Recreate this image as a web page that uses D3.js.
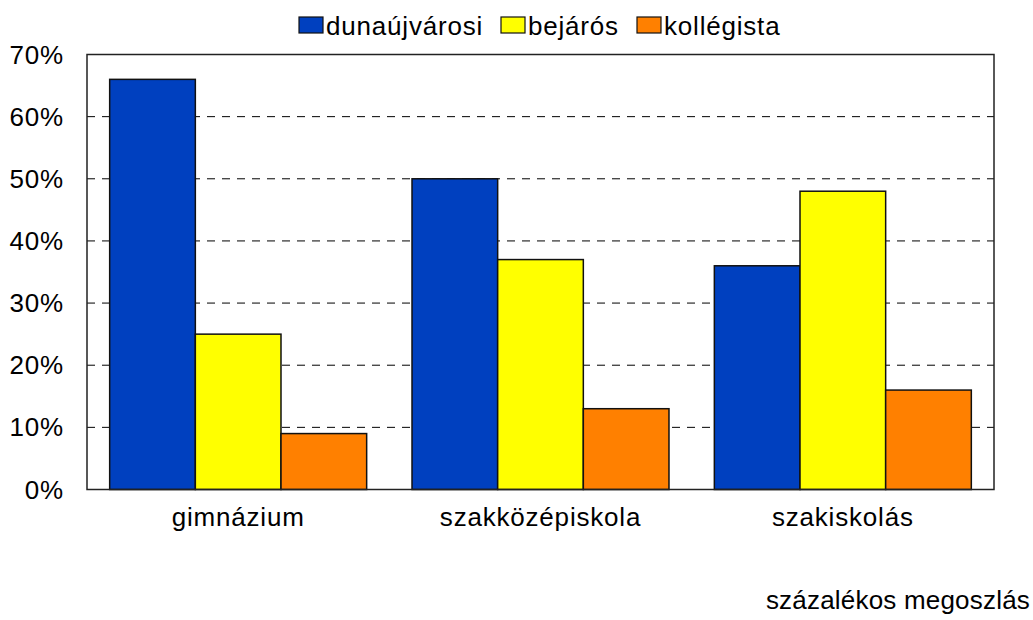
<!DOCTYPE html>
<html>
<head>
<meta charset="utf-8">
<script src="https://cdn.jsdelivr.net/npm/d3@7"></script>
<style>
  body { margin: 0; background: #fff; }
  svg text { font-family: "Liberation Sans", Arial, sans-serif; fill: #000; letter-spacing: 0.8px; }
</style>
</head>
<body>
<svg id="chart" width="1033" height="620"></svg>
<script>
// chart data
const categories = ['gimnázium', 'szakközépiskola', 'szakiskolás']
const seriesNames = ['dunaújvárosi', 'bejárós', 'kollégista']
const dunaujvarosi = [66, 50, 36]
const bejaros = [25, 37, 48]
const kollegista = [9, 13, 16]
const yTicks = [0, 10, 20, 30, 40, 50, 60, 70]
const colors = ['#0040BF', '#FFFF00', '#FF8000']

const seriesValues = [dunaujvarosi, bejaros, kollegista]

const svg = d3.select('#chart')
const plotLeft = 87, plotRight = 994, plotTop = 54.5, plotBottom = 489.5

const x = d3.scaleBand()
  .domain(categories)
  .range([plotLeft, plotRight])
  .paddingInner(0.15)
  .paddingOuter(0.075)

const xs = d3.scaleBand()
  .domain(seriesNames)
  .range([0, x.bandwidth()])

const y = d3.scaleLinear()
  .domain([0, 70])
  .range([plotBottom, plotTop])

// dashed gridlines
svg.append('g')
  .selectAll('line')
  .data(yTicks.filter(t => t > 0 && t < 70))
  .enter()
  .append('line')
  .attr('x1', plotLeft)
  .attr('x2', plotRight)
  .attr('y1', d => y(d))
  .attr('y2', d => y(d))
  .attr('stroke', '#000')
  .attr('stroke-width', 1)
  .attr('stroke-dasharray', '8,7')

// bars
const rows = categories.map((c, i) => ({
  cat: c,
  vals: seriesNames.map((s, j) => ({ s: s, v: seriesValues[j][i], color: colors[j] }))
}))

svg.append('g')
  .selectAll('g')
  .data(rows)
  .enter()
  .append('g')
  .attr('transform', d => `translate(${x(d.cat)},0)`)
  .selectAll('rect')
  .data(d => d.vals)
  .enter()
  .append('rect')
  .attr('x', d => xs(d.s))
  .attr('y', d => y(d.v))
  .attr('width', xs.bandwidth())
  .attr('height', d => y(0) - y(d.v))
  .attr('fill', d => d.color)
  .attr('stroke', '#111')
  .attr('stroke-width', 1.5)

// plot frame
svg.append('rect')
  .attr('x', plotLeft)
  .attr('y', plotTop)
  .attr('width', plotRight - plotLeft)
  .attr('height', plotBottom - plotTop)
  .attr('fill', 'none')
  .attr('stroke', '#222')
  .attr('stroke-width', 1.5)

// y tick labels
svg.append('g')
  .selectAll('text')
  .data(yTicks)
  .enter()
  .append('text')
  .attr('x', 64)
  .attr('y', d => y(d) + 9)
  .attr('text-anchor', 'end')
  .attr('font-size', 26)
  .text(d => d + '%')

// category labels
svg.append('g')
  .selectAll('text')
  .data(categories)
  .enter()
  .append('text')
  .attr('x', d => x(d) + x.bandwidth() / 2)
  .attr('y', 526)
  .attr('text-anchor', 'middle')
  .attr('font-size', 26)
  .text(d => d)

// legend
const legendX = [299, 501, 637]
const legend = svg.append('g')
  .selectAll('g')
  .data(seriesNames)
  .enter()
  .append('g')
  .attr('transform', (d, i) => `translate(${legendX[i]},0)`)

legend.append('rect')
  .attr('x', 0)
  .attr('y', 17)
  .attr('width', 24)
  .attr('height', 16)
  .attr('fill', (d, i) => colors[i])
  .attr('stroke', '#111')
  .attr('stroke-width', 1.2)

legend.append('text')
  .attr('x', 27)
  .attr('y', 35)
  .attr('font-size', 26)
  .text(d => d)

// footnote
svg.append('text')
  .attr('x', 1030)
  .attr('y', 609)
  .attr('text-anchor', 'end')
  .attr('font-size', 26)
  .style('letter-spacing', '0.2px')
  .text('százalékos megoszlás')
</script>
</body>
</html>
